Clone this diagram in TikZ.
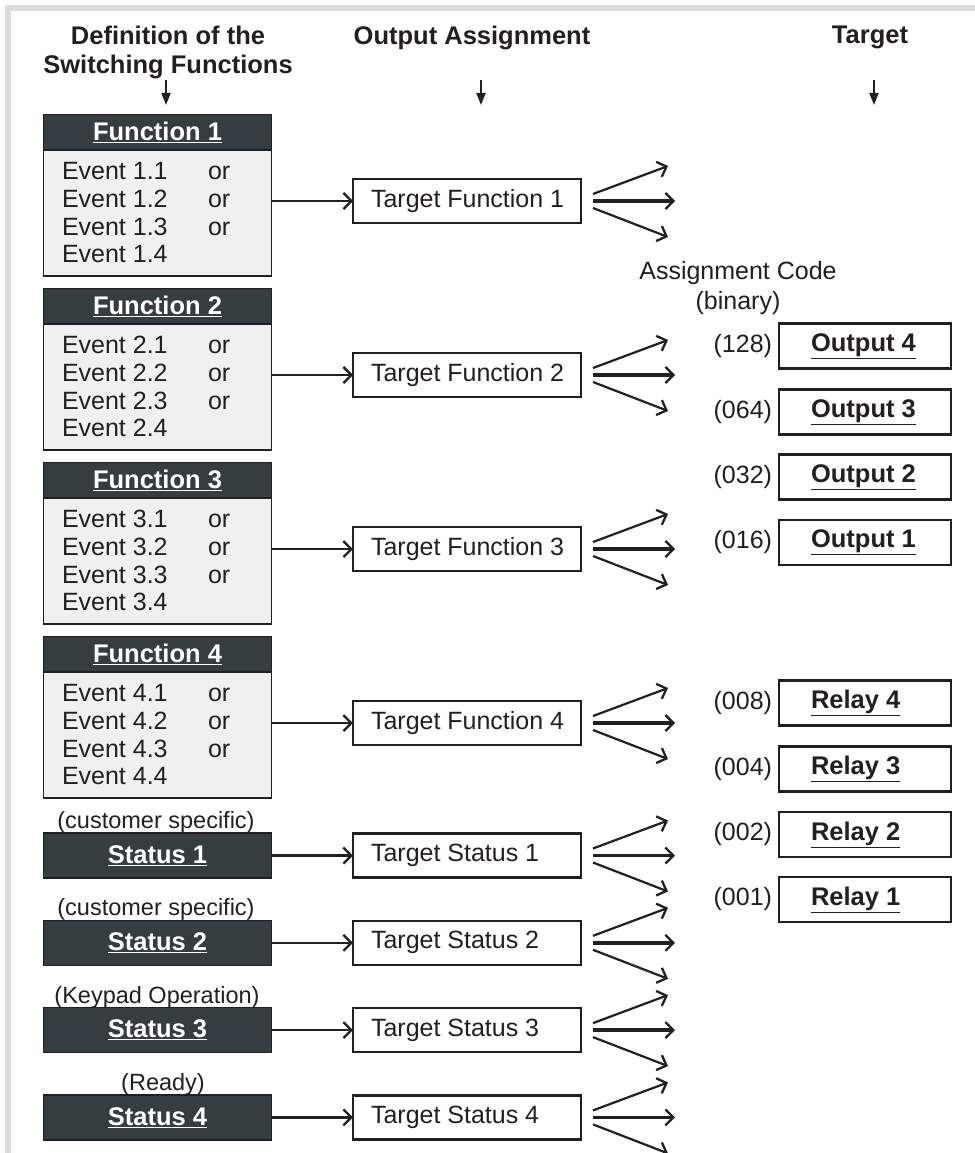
\documentclass[tikz,border=0pt]{standalone}
\usepackage{fontspec}
\setmainfont{Liberation Sans}
\usetikzlibrary{arrows.meta}
\definecolor{darkfill}{HTML}{363D41}
\definecolor{lightfill}{HTML}{F0F0F0}
\definecolor{framegrey}{HTML}{DCDCDC}
\definecolor{ink}{HTML}{231F20}
\begin{document}
\begin{tikzpicture}[x=1pt,y=-1pt,
  every node/.style={inner sep=0pt, outer sep=0pt, text=ink},
  reg/.style={font=\fontsize{25}{29}\selectfont},
  small/.style={font=\fontsize{23.5}{27}\selectfont},
  bld/.style={font=\fontsize{25.5}{29}\selectfont\bfseries},
  evt/.style={reg, anchor=west, text height=17.5pt, text depth=0pt},
  hdrbox/.style={draw=ink, line width=1.6pt, fill=darkfill, minimum width=228pt, minimum height=35pt, text=white, font=\fontsize{25.5}{29}\selectfont\bfseries},
  bodybox/.style={draw=ink, line width=1.4pt, fill=lightfill, minimum width=228pt, minimum height=126pt},
  tgtbox/.style={draw=ink, line width=2.2pt, fill=white, minimum width=228pt, minimum height=44pt},
  outbox/.style={draw=ink, line width=2.2pt, minimum width=172pt, minimum height=45pt},
  conn/.style={draw=ink, line width=2.6pt, -{Straight Barb[length=8pt,width=16pt,line width=2.3pt]}},
  fan/.style={conn, line width=2.2pt},
  fanmid/.style={conn, line width=3.6pt},
  downarrow/.style={draw=ink, line width=2pt, -{Triangle[length=12pt,width=9pt]}},
]
\useasboundingbox (0,0) rectangle (974,1153);
\fill[white] (0,0) rectangle (974,1153);
\draw[framegrey, line width=5.5pt] (7.8,1160) -- (7.8,7.8) -- (980,7.8);

% column headers
\node[bld, align=center, anchor=north] (h1) at (168,26) {Definition of the\\Switching Functions};
\node[bld, anchor=north] (h2) at (472,26) {Output Assignment};
\node[bld, anchor=north] (h3) at (870,26) {Target};
\coordinate (d1a) at (166,80); \coordinate (d1b) at (166,105);
\coordinate (d2a) at (481,80); \coordinate (d2b) at (481,105);
\coordinate (d3a) at (874,80); \coordinate (d3b) at (874,105);
\draw[downarrow] (d1a) -- (d1b);
\draw[downarrow] (d2a) -- (d2b);
\draw[downarrow] (d3a) -- (d3b);

% switching functions
\foreach \k in {1,...,4} {
  \pgfmathsetmacro\yo{174*(\k-1)}
  \node[hdrbox] (fh\k) at (157.5,132+\yo) {\underline{Function \k}};
  \node[bodybox] (fb\k) at (157.5,213+\yo) {};
  \foreach \i in {1,...,4} {
    \node[evt] (e\k\i) at (62,171+27.7*\i-27.7+\yo) {Event \k.\i};
  }
  \foreach \i in {1,2,3} {
    \node[evt] (o\k\i) at (208,171+27.7*\i-27.7+\yo) {or};
  }
  \node[tgtbox] (tf\k) at (467,201+\yo) {};
  \node[reg, anchor=west] (tft\k) at (371,201+\yo) {Target Function \k};
  \draw[conn] (fb\k.east |- tf\k.west) -- (tf\k.west);
  \draw[fan] ([xshift=12pt,yshift=7pt]tf\k.east) -- ++(75,-28);
  \draw[fanmid] ([xshift=12pt]tf\k.east) -- ++(82,0);
  \draw[fan] ([xshift=12pt,yshift=-7pt]tf\k.east) -- ++(75,29);
}

% status
\foreach \k/\lab/\lx in {1/(customer specific)/156, 2/(customer specific)/156, 3/(Keypad Operation)/157, 4/(Ready)/163} {
  \pgfmathsetmacro\yc{855.5+87.3*(\k-1)}
  \node[small] (sl\k) at (\lx,\yc-33) {\lab};
  \node[hdrbox, minimum height=45pt] (st\k) at (157.5,\yc) {\underline{Status \k}};
  \node[tgtbox] (ts\k) at (467,\yc) {};
  \node[reg, anchor=west] (tst\k) at (371,\yc) {Target Status \k};
  \draw[conn] (st\k.east) -- (ts\k.west);
  \draw[fan] ([xshift=12pt,yshift=7pt]ts\k.east) -- ++(75,-28);
  \draw[fanmid] ([xshift=12pt]ts\k.east) -- ++(82,0);
  \draw[fan] ([xshift=12pt,yshift=-7pt]ts\k.east) -- ++(75,29);
}

% targets
\node[reg] (ac1) at (738,273) {Assignment Code};
\node[reg] (ac2) at (738,303) {(binary)};
\foreach \n/\name/\code/\yy in {o4/Output 4/128/346, o3/Output 3/064/412, o2/Output 2/032/477, o1/Output 1/016/542.5,
                                r4/Relay 4/008/703, r3/Relay 3/004/769, r2/Relay 2/002/834.5, r1/Relay 1/001/899.5} {
  \node[outbox] (\n) at (865,\yy) {};
  \node[bld, anchor=west] (\n t) at (811,\yy) {\underline{\name}};
  \node[reg, anchor=east] (\n c) at (772,\yy) {(\code)};
}
\end{tikzpicture}
\end{document}
